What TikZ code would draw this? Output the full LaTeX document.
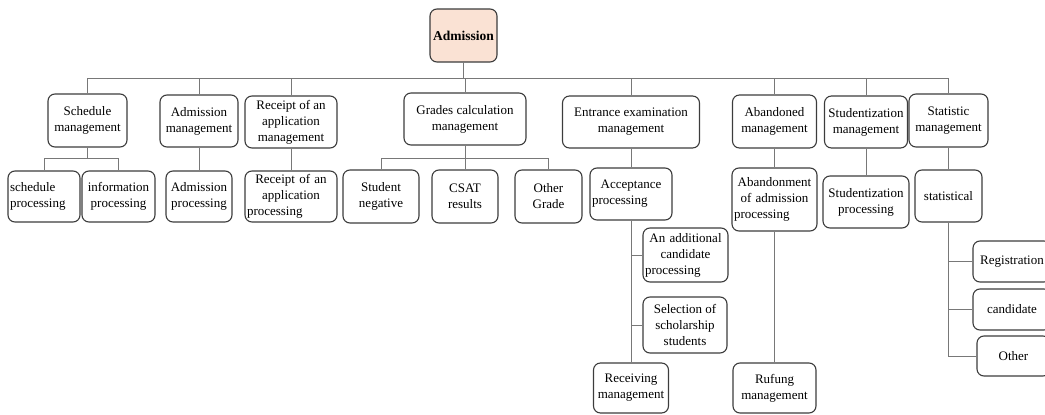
\documentclass[tikz,border=0pt]{standalone}
\usepackage{fontspec}
\setmainfont{Liberation Serif}
\usetikzlibrary{calc}
\definecolor{rootfill}{RGB}{250,226,212}
\definecolor{boxline}{RGB}{60,60,60}
\definecolor{linkline}{RGB}{120,120,120}
%% last line of a box set flush left
\newcommand{\lastl}[1]{\makebox[\hsize][l]{#1}}

\begin{document}
\begin{tikzpicture}[x=1pt, y=-1pt]
%% coordinates are the pixel positions of the drawing (y grows downward)
\tikzstyle{box}=[draw=boxline,line width=1.1pt,rounded corners=7pt,align=center,inner sep=2pt,
  font=\fontsize{13}{16}\selectfont]
\tikzstyle{rootbox}=[box,fill=rootfill,font=\fontsize{13.5}{16}\selectfont\bfseries]
\tikzstyle{link}=[draw=linkline,line width=0.9pt]
\path[use as bounding box, clip] (0,0) rectangle (1045,415);
%% root
\node[rootbox, minimum width=67pt, minimum height=53pt] at (463.5,35.5) (root) {Admission};
\coordinate (bus) at (0,78);
%% first level
\node[box, minimum width=79pt, minimum height=53pt] at (87.5,120.5) (sched) {Schedule\\management};
\node[box, minimum width=78pt, minimum height=52pt] at (199,121) (admm) {Admission\\management};
\node[box, minimum width=92pt, minimum height=52pt] at (291,122) (rcpm) {Receipt of an\\application\\management};
\node[box, minimum width=122pt, minimum height=52pt] at (465,119) (grdm) {Grades calculation\\management};
\node[box, minimum width=137pt, minimum height=52pt] at (631,122) (entm) {Entrance examination\\management};
\node[box, minimum width=84pt, minimum height=53pt] at (774.5,121.5) (abdm) {Abandoned\\management};
\node[box, minimum width=83pt, minimum height=52pt] at (866,122) (stdm) {Studentization\\management};
\node[box, minimum width=79pt, minimum height=53pt] at (948.5,120.5) (stam) {Statistic\\management};
%% second level
\node[box, align=left, text width=68pt, minimum height=51pt] at (44,196.5) (schp) {schedule\\processing};
\node[box, minimum width=73pt, minimum height=51pt] at (118.5,196.5) (infp) {information\\processing};
\node[box, minimum width=66pt, minimum height=51pt] at (199,196.5) (admp) {Admission\\processing};
\node[box, text width=88pt, minimum height=51pt] at (291,196.5) (rcpp) {Receipt of an\\application\\\lastl{processing}};
\node[box, minimum width=76pt, minimum height=53pt] at (381,196.5) (stun) {Student\\negative};
\node[box, minimum width=66pt, minimum height=53pt] at (465,196.5) (csat) {CSAT\\results};
\node[box, minimum width=67pt, minimum height=53pt] at (548.5,196.5) (othg) {Other\\Grade};
\node[box, text width=78pt, minimum height=52pt] at (631,194) (accp) {Acceptance\\\lastl{processing}};
\node[box, text width=81pt, minimum height=54pt] at (685.5,255) (addc) {An additional\\candidate\\\lastl{processing}};
\node[box, minimum width=84pt, minimum height=56pt] at (685,325) (sels) {Selection of\\scholarship\\students};
\node[box, minimum width=75pt, minimum height=50pt] at (631,388) (recv) {Receiving\\management};
\node[box, text width=81pt, minimum height=63pt] at (774.5,199.5) (abdp) {Abandonment\\of admission\\\lastl{processing}};
\node[box, minimum width=83pt, minimum height=50pt] at (774.5,388) (rufg) {Rufung\\management};
\node[box, minimum width=86pt, minimum height=52pt] at (866,202) (stdp) {Studentization\\processing};
\node[box, minimum width=67pt, minimum height=52pt] at (948.5,196) (stat) {statistical};
\node[box, minimum width=78pt, minimum height=41pt] at (1012,261.5) (regi) {Registration};
\node[box, minimum width=78pt, minimum height=41pt] at (1012,309.5) (cand) {candidate};
\node[box, minimum width=73pt, minimum height=40pt] at (1013.5,356) (othr) {Other};
%% root to first level
\draw[link] (root.south) |- (bus -| sched.north) -- (sched.north);
\draw[link] (root.south) |- (bus -| admm.north) -- (admm.north);
\draw[link] (root.south) |- (bus -| rcpm.north) -- (rcpm.north);
\draw[link] (root.south) |- (bus -| grdm.north) -- (grdm.north);
\draw[link] (root.south) |- (bus -| entm.north) -- (entm.north);
\draw[link] (root.south) |- (bus -| abdm.north) -- (abdm.north);
\draw[link] (root.south) |- (bus -| stdm.north) -- (stdm.north);
\draw[link] (root.south) |- (bus -| stam.north) -- (stam.north);
%% first level to second level
\draw[link] (sched.south) -- ++(0,11) -| (schp.north);
\draw[link] (sched.south) -- ++(0,11) -| (infp.north);
\draw[link] (admm.south) -- (admp.north);
\draw[link] (rcpm.south) -- (rcpp.north);
\draw[link] (grdm.south) -- ++(0,13) -| (stun.north);
\draw[link] (grdm.south) -- (csat.north);
\draw[link] (grdm.south) -- ++(0,13) -| (othg.north);
\draw[link] (entm.south) -- (accp.north);
\draw[link] (accp.south) |- (addc.west);
\draw[link] (accp.south) |- (sels.west);
\draw[link] (accp.south) -- (recv.north);
\draw[link] (abdm.south) -- (abdp.north);
\draw[link] (abdp.south) -- (rufg.north);
\draw[link] (stdm.south) -- (stdp.north);
\draw[link] (stam.south) -- (stat.north);
\draw[link] (stat.south) |- (regi.west);
\draw[link] (stat.south) |- (cand.west);
\draw[link] (stat.south) |- (othr.west);
\end{tikzpicture}
\end{document}
